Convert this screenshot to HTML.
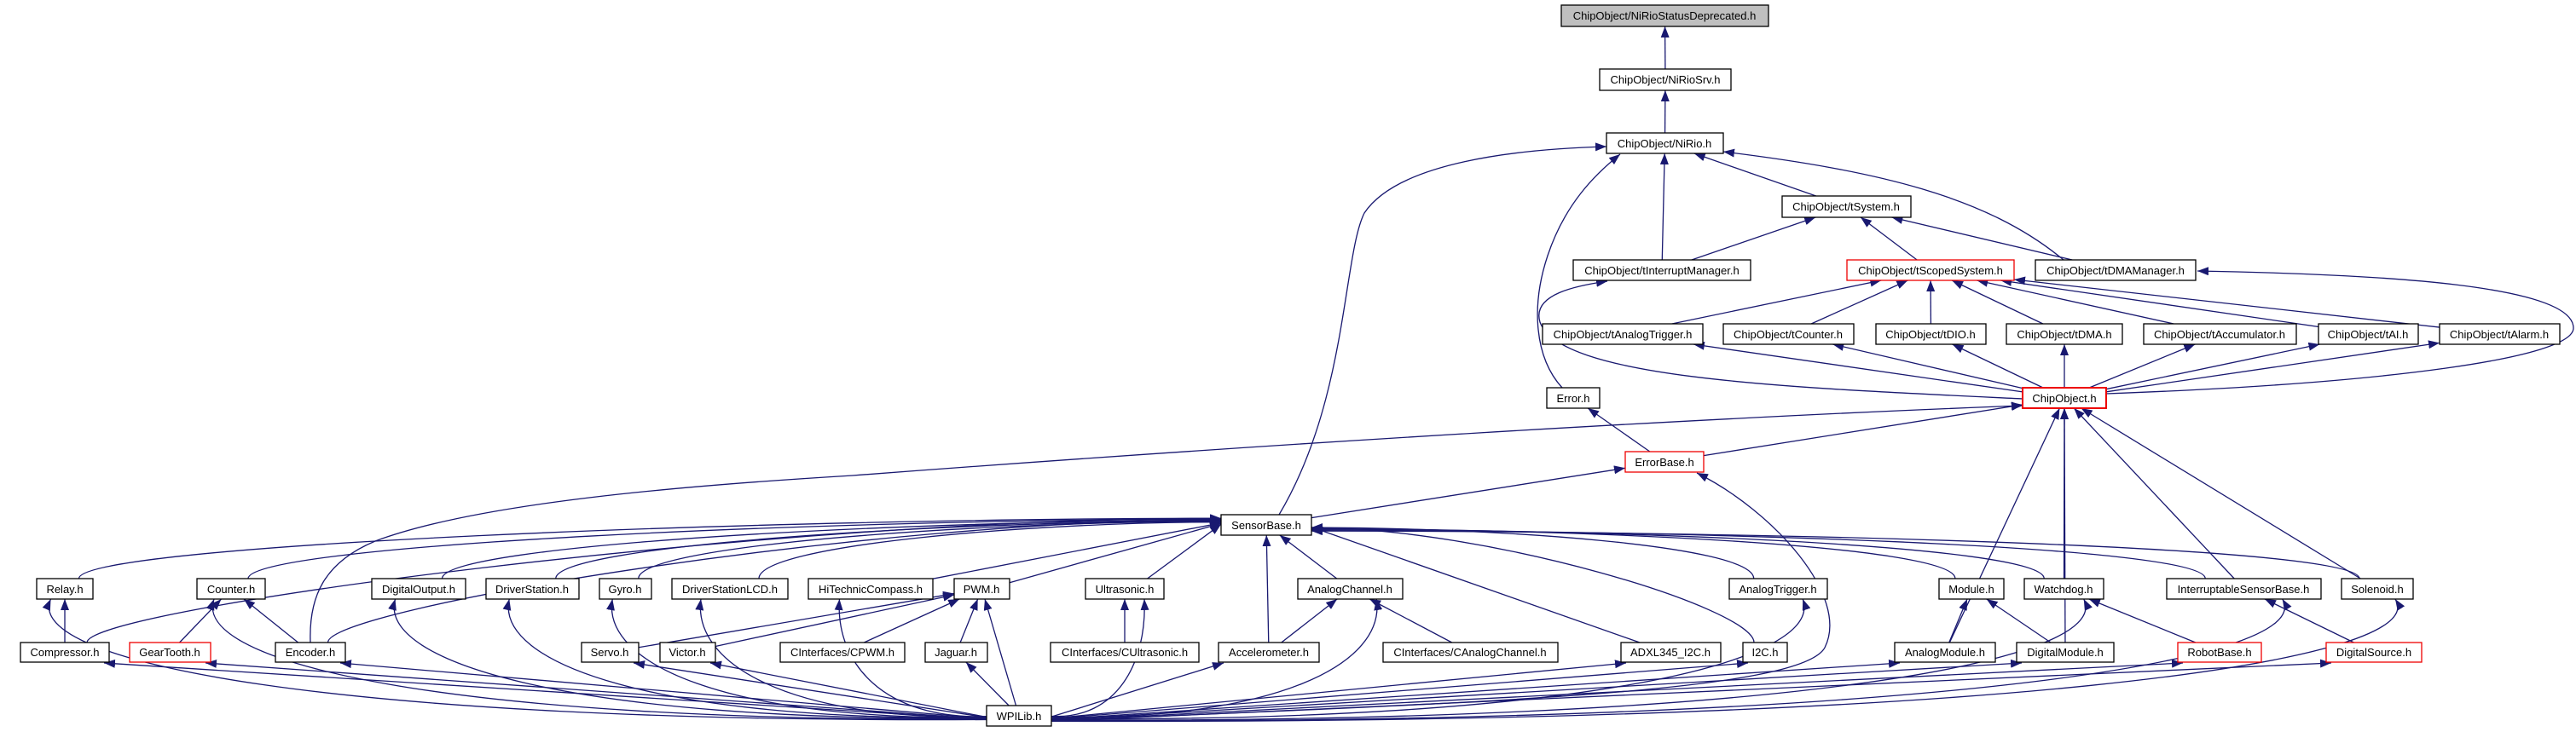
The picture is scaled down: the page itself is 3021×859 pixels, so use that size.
<!DOCTYPE html>
<html><head><meta charset="utf-8">
<style>
html,body{margin:0;padding:0;background:#fff;}
svg{display:block;}
text{font-family:"Liberation Sans",Arial,sans-serif;font-size:13px;fill:#000;}
</style></head>
<body>
<svg id="g" width="3021" height="859" viewBox="0 0 3021 859" xmlns="http://www.w3.org/2000/svg">
<defs>
<marker id="a" markerUnits="userSpaceOnUse" markerWidth="14" markerHeight="10" refX="13" refY="5" orient="auto">
<path d="M0,0 L13,5 L0,10 z" fill="#191970"/>
</marker>
</defs>
<g id="edges" fill="none" stroke="#191970" stroke-width="1.3"></g>
<g id="nodes" stroke-width="1.3">
<rect x="1831" y="6" width="243" height="25" fill="#bfbfbf" stroke="#000"/><text x="1952" y="23" text-anchor="middle">ChipObject/NiRioStatusDeprecated.h</text>
<rect x="1876" y="81" width="154" height="25" fill="#fff" stroke="#000"/><text x="1953" y="98" text-anchor="middle">ChipObject/NiRioSrv.h</text>
<rect x="1884" y="156" width="137" height="24" fill="#fff" stroke="#000"/><text x="1952" y="173" text-anchor="middle">ChipObject/NiRio.h</text>
<rect x="2090" y="230" width="151" height="25" fill="#fff" stroke="#000"/><text x="2165" y="247" text-anchor="middle">ChipObject/tSystem.h</text>
<rect x="1845" y="305" width="208" height="24" fill="#fff" stroke="#000"/><text x="1949" y="322" text-anchor="middle">ChipObject/tInterruptManager.h</text>
<rect x="2166" y="305" width="196" height="24" fill="#fff" stroke="#e00"/><text x="2264" y="322" text-anchor="middle">ChipObject/tScopedSystem.h</text>
<rect x="2387" y="305" width="188" height="24" fill="#fff" stroke="#000"/><text x="2481" y="322" text-anchor="middle">ChipObject/tDMAManager.h</text>
<rect x="1809" y="380" width="188" height="24" fill="#fff" stroke="#000"/><text x="1903" y="397" text-anchor="middle">ChipObject/tAnalogTrigger.h</text>
<rect x="2021" y="380" width="153" height="24" fill="#fff" stroke="#000"/><text x="2097" y="397" text-anchor="middle">ChipObject/tCounter.h</text>
<rect x="2200" y="380" width="129" height="24" fill="#fff" stroke="#000"/><text x="2264" y="397" text-anchor="middle">ChipObject/tDIO.h</text>
<rect x="2353" y="380" width="136" height="24" fill="#fff" stroke="#000"/><text x="2421" y="397" text-anchor="middle">ChipObject/tDMA.h</text>
<rect x="2514" y="380" width="179" height="24" fill="#fff" stroke="#000"/><text x="2603" y="397" text-anchor="middle">ChipObject/tAccumulator.h</text>
<rect x="2719" y="380" width="117" height="24" fill="#fff" stroke="#000"/><text x="2777" y="397" text-anchor="middle">ChipObject/tAI.h</text>
<rect x="2861" y="380" width="141" height="24" fill="#fff" stroke="#000"/><text x="2931" y="397" text-anchor="middle">ChipObject/tAlarm.h</text>
<rect x="1814" y="455" width="62" height="24" fill="#fff" stroke="#000"/><text x="1845" y="472" text-anchor="middle">Error.h</text>
<rect x="2372" y="455" width="98" height="24" fill="#fff" stroke="#e00" stroke-width="2"/><text x="2421" y="472" text-anchor="middle">ChipObject.h</text>
<rect x="1906" y="530" width="92" height="24" fill="#fff" stroke="#e00"/><text x="1952" y="547" text-anchor="middle">ErrorBase.h</text>
<rect x="1432" y="604" width="106" height="24" fill="#fff" stroke="#000"/><text x="1485" y="621" text-anchor="middle">SensorBase.h</text>

<rect x="43" y="679" width="66" height="24" fill="#fff" stroke="#000"/><text x="76" y="696" text-anchor="middle">Relay.h</text>
<rect x="231" y="679" width="80" height="24" fill="#fff" stroke="#000"/><text x="271" y="696" text-anchor="middle">Counter.h</text>
<rect x="436" y="679" width="110" height="24" fill="#fff" stroke="#000"/><text x="491" y="696" text-anchor="middle">DigitalOutput.h</text>
<rect x="570" y="679" width="109" height="24" fill="#fff" stroke="#000"/><text x="624" y="696" text-anchor="middle">DriverStation.h</text>
<rect x="703" y="679" width="61" height="24" fill="#fff" stroke="#000"/><text x="733" y="696" text-anchor="middle">Gyro.h</text>
<rect x="788" y="679" width="136" height="24" fill="#fff" stroke="#000"/><text x="856" y="696" text-anchor="middle">DriverStationLCD.h</text>
<rect x="948" y="679" width="146" height="24" fill="#fff" stroke="#000"/><text x="1021" y="696" text-anchor="middle">HiTechnicCompass.h</text>
<rect x="1119" y="679" width="65" height="24" fill="#fff" stroke="#000"/><text x="1151" y="696" text-anchor="middle">PWM.h</text>
<rect x="1273" y="679" width="92" height="24" fill="#fff" stroke="#000"/><text x="1319" y="696" text-anchor="middle">Ultrasonic.h</text>
<rect x="1522" y="679" width="123" height="24" fill="#fff" stroke="#000"/><text x="1583" y="696" text-anchor="middle">AnalogChannel.h</text>
<rect x="2028" y="679" width="115" height="24" fill="#fff" stroke="#000"/><text x="2085" y="696" text-anchor="middle">AnalogTrigger.h</text>
<rect x="2274" y="679" width="76" height="24" fill="#fff" stroke="#000"/><text x="2312" y="696" text-anchor="middle">Module.h</text>
<rect x="2374" y="679" width="93" height="24" fill="#fff" stroke="#000"/><text x="2420" y="696" text-anchor="middle">Watchdog.h</text>
<rect x="2541" y="679" width="181" height="24" fill="#fff" stroke="#000"/><text x="2631" y="696" text-anchor="middle">InterruptableSensorBase.h</text>
<rect x="2746" y="679" width="84" height="24" fill="#fff" stroke="#000"/><text x="2788" y="696" text-anchor="middle">Solenoid.h</text>

<rect x="24" y="754" width="104" height="23" fill="#fff" stroke="#000"/><text x="76" y="770" text-anchor="middle">Compressor.h</text>
<rect x="152" y="754" width="95" height="23" fill="#fff" stroke="#e00"/><text x="199" y="770" text-anchor="middle">GearTooth.h</text>
<rect x="323" y="754" width="82" height="23" fill="#fff" stroke="#000"/><text x="364" y="770" text-anchor="middle">Encoder.h</text>
<rect x="682" y="754" width="67" height="23" fill="#fff" stroke="#000"/><text x="715" y="770" text-anchor="middle">Servo.h</text>
<rect x="774" y="754" width="65" height="23" fill="#fff" stroke="#000"/><text x="806" y="770" text-anchor="middle">Victor.h</text>
<rect x="915" y="754" width="146" height="23" fill="#fff" stroke="#000"/><text x="988" y="770" text-anchor="middle">CInterfaces/CPWM.h</text>
<rect x="1085" y="754" width="73" height="23" fill="#fff" stroke="#000"/><text x="1121" y="770" text-anchor="middle">Jaguar.h</text>
<rect x="1232" y="754" width="174" height="23" fill="#fff" stroke="#000"/><text x="1319" y="770" text-anchor="middle">CInterfaces/CUltrasonic.h</text>
<rect x="1429" y="754" width="118" height="23" fill="#fff" stroke="#000"/><text x="1488" y="770" text-anchor="middle">Accelerometer.h</text>
<rect x="1622" y="754" width="205" height="23" fill="#fff" stroke="#000"/><text x="1724" y="770" text-anchor="middle">CInterfaces/CAnalogChannel.h</text>
<rect x="1901" y="754" width="117" height="23" fill="#fff" stroke="#000"/><text x="1959" y="770" text-anchor="middle">ADXL345_I2C.h</text>
<rect x="2044" y="754" width="52" height="23" fill="#fff" stroke="#000"/><text x="2070" y="770" text-anchor="middle">I2C.h</text>
<rect x="2222" y="754" width="118" height="23" fill="#fff" stroke="#000"/><text x="2281" y="770" text-anchor="middle">AnalogModule.h</text>
<rect x="2365" y="754" width="114" height="23" fill="#fff" stroke="#000"/><text x="2422" y="770" text-anchor="middle">DigitalModule.h</text>
<rect x="2554" y="754" width="98" height="23" fill="#fff" stroke="#e00"/><text x="2603" y="770" text-anchor="middle">RobotBase.h</text>
<rect x="2728" y="754" width="112" height="23" fill="#fff" stroke="#e00"/><text x="2784" y="770" text-anchor="middle">DigitalSource.h</text>

<rect x="1157" y="828" width="76" height="24" fill="#fff" stroke="#000"/><text x="1195" y="845" text-anchor="middle">WPILib.h</text>
</g>
</svg>
<script>
(function(){
var N={
dep:[1831,6,2074,31],srv:[1876,81,2030,106],nirio:[1884,156,2021,180],tsys:[2090,230,2241,255],
tint:[1845,305,2053,329],tscp:[2166,305,2362,329],tdmam:[2387,305,2575,329],
tat:[1809,380,1997,404],tcnt:[2021,380,2174,404],tdio:[2200,380,2329,404],tdma:[2353,380,2489,404],
tacc:[2514,380,2693,404],tai:[2719,380,2836,404],talm:[2861,380,3002,404],
err:[1814,455,1876,479],chip:[2372,455,2470,479],errb:[1906,530,1998,554],sb:[1432,604,1538,628],
relay:[43,679,109,703],counter:[231,679,311,703],dout:[436,679,546,703],ds:[570,679,679,703],gyro:[703,679,764,703],
dslcd:[788,679,924,703],htc:[948,679,1094,703],pwm:[1119,679,1184,703],ultra:[1273,679,1365,703],
ach:[1522,679,1645,703],atrig:[2028,679,2143,703],module:[2274,679,2350,703],wd:[2374,679,2467,703],
isb:[2541,679,2722,703],sol:[2746,679,2830,703],
comp:[24,754,128,777],gear:[152,754,247,777],enc:[323,754,405,777],servo:[682,754,749,777],victor:[774,754,839,777],
cpwm:[915,754,1061,777],jag:[1085,754,1158,777],cult:[1232,754,1406,777],acc:[1429,754,1547,777],
cach:[1622,754,1827,777],adxl:[1901,754,2018,777],i2c:[2044,754,2096,777],amod:[2222,754,2340,777],
dmod:[2365,754,2479,777],robot:[2554,754,2652,777],dsrc:[2728,754,2840,777],wpi:[1157,828,1233,852]};
function c(r){return[(r[0]+r[2])/2,(r[1]+r[3])/2];}
function border(r,px,py){var cc=c(r),dx=px-cc[0],dy=py-cc[1],hw=(r[2]-r[0])/2,hh=(r[3]-r[1])/2;
var t=Math.min(dx?hw/Math.abs(dx):1e9,dy?hh/Math.abs(dy):1e9);return[cc[0]+dx*t,cc[1]+dy*t];}
var g=document.getElementById('edges'),ns='http://www.w3.org/2000/svg';
function add(d){var p=document.createElementNS(ns,'path');p.setAttribute('d',d);p.setAttribute('marker-end','url(#a)');g.appendChild(p);}
function edge(ch,pa){var A=N[ch],B=N[pa],ca=c(A),cb=c(B),dx=cb[0]-ca[0],dy=cb[1]-ca[1];
if(ch==='wpi'){
 if(Math.abs(dx)<120){var s=border(A,cb[0],cb[1]),e=border(B,ca[0],ca[1]);add('M'+s[0]+','+s[1]+' L'+e[0]+','+e[1]);return;}
 var sx=dx<0?A[0]:A[2],sy=840+Math.min(8,Math.abs(dx)/250);
 if(B[1]===754){ // row B: near-straight into bottom corner
   var ex=dx<0?B[2]-6:B[0]+6;add('M'+sx+','+sy+' L'+ex+','+(B[3]+1));return;}
 var ex=cb[0]+(dx<0?-(B[2]-B[0])/4:(B[2]-B[0])/4),ey=B[3];
 var k=(sx-ex);
 add('M'+sx+','+sy+' C'+(ex+k*0.3)+','+(sy+4)+' '+(ex-k*0.03)+','+(ey+75)+' '+ex+','+ey);return;}
if(pa==='sb'&&Math.abs(dx)>2.2*Math.abs(dy)){
 var sx2=ca[0]+(dx>0?(A[2]-A[0])/4:-(A[2]-A[0])/4),sy2=A[1];
 var ex2=dx>0?B[0]:B[2],ey2=cb[1]+Math.max(-8,Math.min(8,(sx2-cb[0])/180));
 if(Math.abs(dx)<500){var s3=border(A,cb[0],cb[1]);sx2=s3[0];sy2=s3[1];add('M'+sx2+','+sy2+' L'+ex2+','+ey2);return;}
 add('M'+sx2+','+sy2+' C'+sx2+','+(sy2-40)+' '+(ex2-(ex2-sx2)*0.4)+','+ey2+' '+ex2+','+ey2);return;}
var s1=border(A,cb[0],cb[1]),e1=border(B,ca[0],ca[1]);
add('M'+s1[0]+','+s1[1]+' L'+e1[0]+','+e1[1]);}
var E=[['srv','dep'],['nirio','srv'],['tsys','nirio'],['tint','nirio'],
['tint','tsys'],['tscp','tsys'],['tdmam','tsys'],
['tat','tscp'],['tcnt','tscp'],['tdio','tscp'],['tdma','tscp'],['tacc','tscp'],['tai','tscp'],['talm','tscp'],
['chip','tat'],['chip','tcnt'],['chip','tdio'],['chip','tdma'],['chip','tacc'],['chip','tai'],['chip','talm'],
['errb','err'],['errb','chip'],['sb','errb'],
['amod','chip'],['wd','chip'],['dmod','chip'],['isb','chip'],['sol','chip'],
['relay','sb'],['comp','sb'],['counter','sb'],['enc','sb'],['dout','sb'],['ds','sb'],['gyro','sb'],['dslcd','sb'],
['htc','sb'],['pwm','sb'],['ultra','sb'],['acc','sb'],['ach','sb'],['adxl','sb'],['i2c','sb'],['atrig','sb'],
['module','sb'],['wd','sb'],['isb','sb'],['sol','sb'],
['comp','relay'],['gear','counter'],['enc','counter'],['servo','pwm'],['victor','pwm'],['cpwm','pwm'],['jag','pwm'],
['cult','ultra'],['acc','ach'],['cach','ach'],['amod','module'],['dmod','module'],['robot','wd'],['dsrc','isb'],
['wpi','relay'],['wpi','counter'],['wpi','dout'],['wpi','ds'],['wpi','gyro'],['wpi','dslcd'],['wpi','htc'],['wpi','pwm'],
['wpi','ultra'],['wpi','ach'],['wpi','atrig'],['wpi','wd'],['wpi','isb'],['wpi','sol'],
['wpi','comp'],['wpi','gear'],['wpi','enc'],['wpi','servo'],['wpi','victor'],['wpi','jag'],['wpi','acc'],
['wpi','adxl'],['wpi','i2c'],['wpi','amod'],['wpi','dmod'],['wpi','robot'],['wpi','dsrc']];
E.forEach(function(e){edge(e[0],e[1]);});
add('M2420,305 C2330,230 2200,200 2021,178');
add('M1500,604 C1580,470 1575,300 1600,250 C1640,190 1780,175 1884,172');
add('M1832,455 C1800,420 1795,360 1815,300 C1835,240 1870,205 1900,181');
add('M2372,468 C2100,455 1830,445 1806,378 C1796,345 1850,335 1885,330');
add('M2470,462 C2800,450 3018,420 3018,385 C3018,335 2800,322 2577,318');
add('M364,754 C362,700 380,660 440,635 C560,590 800,570 1000,558 C1500,520 2000,490 2372,476');
add('M1233,846 C1700,825 2110,815 2140,760 C2170,700 2080,600 1990,555');
})();
</script>
</body></html>
